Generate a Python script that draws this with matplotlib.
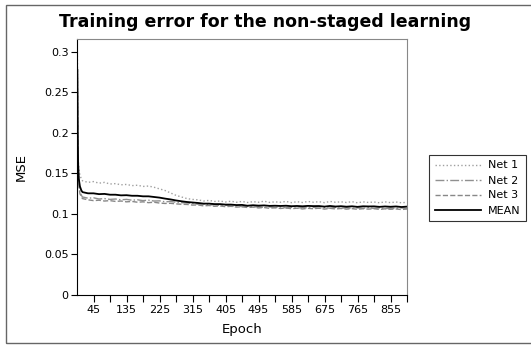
import matplotlib
matplotlib.use('Agg')
import matplotlib.pyplot as plt
from matplotlib.patches import Rectangle

epochs = [1, 2, 3, 5, 8, 12] + list(range(15, 901, 15))

net1 = [0.300, 0.210, 0.172, 0.155, 0.148, 0.143,
        0.141, 0.139, 0.140, 0.138, 0.139, 0.137, 0.1375, 0.136, 0.1365, 0.135,
        0.1355, 0.134, 0.1345, 0.133, 0.131, 0.129, 0.126, 0.123, 0.121, 0.119,
        0.118, 0.1175, 0.116, 0.1168, 0.1155, 0.116, 0.1148, 0.1158, 0.1145, 0.1155,
        0.1142, 0.1152, 0.1145, 0.1158, 0.1143, 0.115, 0.1145, 0.1155, 0.114, 0.1152,
        0.1142, 0.1155, 0.1145, 0.1152, 0.114, 0.1155, 0.1145, 0.115, 0.1142, 0.1152,
        0.1138, 0.115, 0.1142, 0.1148, 0.1138, 0.115, 0.114, 0.1148, 0.1138, 0.1145]

net2 = [0.270, 0.195, 0.160, 0.138, 0.128, 0.123,
        0.121, 0.1195, 0.120, 0.1185, 0.119, 0.118, 0.1185, 0.1175, 0.118, 0.117,
        0.1175, 0.1165, 0.117, 0.116, 0.1162, 0.115, 0.1155, 0.1145, 0.114, 0.1135,
        0.113, 0.112, 0.1125, 0.111, 0.1115, 0.1105, 0.111, 0.1095, 0.110, 0.109,
        0.1095, 0.1085, 0.109, 0.108, 0.1088, 0.1078, 0.1085, 0.1075, 0.1082, 0.1072,
        0.108, 0.1075, 0.1082, 0.107, 0.1078, 0.1072, 0.108, 0.107, 0.1078, 0.1068,
        0.1075, 0.107, 0.1078, 0.1068, 0.1075, 0.1065, 0.1072, 0.1068, 0.1075, 0.1066]

net3 = [0.265, 0.190, 0.158, 0.135, 0.125, 0.121,
        0.119, 0.1175, 0.1165, 0.117, 0.116, 0.1165, 0.1155, 0.116, 0.115, 0.1155,
        0.1145, 0.115, 0.114, 0.1145, 0.1135, 0.113, 0.1132, 0.1125, 0.112, 0.1118,
        0.111, 0.1112, 0.110, 0.1105, 0.1095, 0.110, 0.109, 0.1095, 0.1085, 0.109,
        0.108, 0.1085, 0.1075, 0.108, 0.107, 0.1078, 0.1068, 0.1075, 0.1065, 0.1072,
        0.1062, 0.107, 0.1065, 0.1072, 0.106, 0.107, 0.1062, 0.1068, 0.106, 0.1066,
        0.1058, 0.1065, 0.106, 0.1066, 0.1056, 0.1064, 0.1058, 0.1062, 0.1055, 0.1062]

mean = [0.278, 0.198, 0.163, 0.143, 0.134, 0.129,
        0.127, 0.1255, 0.1255, 0.1245, 0.1248, 0.1238, 0.1238, 0.123, 0.1232, 0.1225,
        0.1225, 0.1218, 0.1218, 0.121, 0.1202, 0.119, 0.118, 0.1167, 0.1157, 0.1148,
        0.1142, 0.1136, 0.1128, 0.1128, 0.1122, 0.1122, 0.1116, 0.1116, 0.111, 0.1112,
        0.1102, 0.1108, 0.1103, 0.1106, 0.11, 0.1102, 0.1099, 0.1102, 0.1096, 0.1099,
        0.1095, 0.11, 0.1097, 0.1098, 0.1091, 0.1099, 0.1092, 0.1096, 0.109, 0.1095,
        0.1088, 0.1095, 0.1093, 0.1094, 0.1088, 0.1093, 0.1089, 0.1093, 0.1086, 0.1091]

fig = plt.figure(figsize=(5.31, 3.45), dpi=100)
ax = fig.add_axes([77 / 531, 50 / 345, 330 / 531, 256 / 345])

# frame around the whole figure (right edge runs off the image)
fig.patches.append(Rectangle((6 / 531, 2 / 345), 1.2, 338 / 345, transform=fig.transFigure,
                             fill=False, edgecolor='#666666', linewidth=1.0))

ax.plot(epochs, net1, color='#a0a0a0', linestyle=':', linewidth=1.0, label='Net 1')
ax.plot(epochs, net2, color='#909090', linestyle='-.', linewidth=1.0, label='Net 2')
ax.plot(epochs, net3, color='#888888', linestyle='--', linewidth=1.0, label='Net 3')
ax.plot(epochs, mean, color='black', linestyle='-', linewidth=1.3, label='MEAN')

ax.set_xlim(0, 900)
ax.set_ylim(0, 0.316)
ax.set_xticks(range(45, 901, 45))
ax.set_xticklabels([str(t) if (t // 45) % 2 == 1 else '' for t in range(45, 901, 45)])
ax.set_yticks([0, 0.05, 0.1, 0.15, 0.2, 0.25, 0.3])
ax.set_yticklabels(['0', '0.05', '0.1', '0.15', '0.2', '0.25', '0.3'])
ax.tick_params(axis='both', labelsize=8, direction='out', width=0.8, pad=2)
ax.tick_params(axis='x', length=5)
ax.tick_params(axis='y', length=4)

for side in ['top', 'right']:
    ax.spines[side].set_color('#888888')

ax.set_xlabel('Epoch', fontsize=9.5, labelpad=6)
ax.set_ylabel('MSE', fontsize=9.5, labelpad=12)
fig.suptitle('Training error for the non-staged learning', fontsize=12.5, fontweight='bold',
             x=0.5, y=0.962)

leg = ax.legend(loc='center left', bbox_to_anchor=(429 / 531, 1 - 188 / 345),
                bbox_transform=fig.transFigure, fontsize=8, frameon=True, fancybox=False,
                handlelength=4.2, handletextpad=0.6, labelspacing=0.45, borderpad=0.5,
                borderaxespad=0)
leg.get_frame().set_edgecolor('black')
leg.get_frame().set_linewidth(0.8)

fig.savefig('out.png', dpi=100)
